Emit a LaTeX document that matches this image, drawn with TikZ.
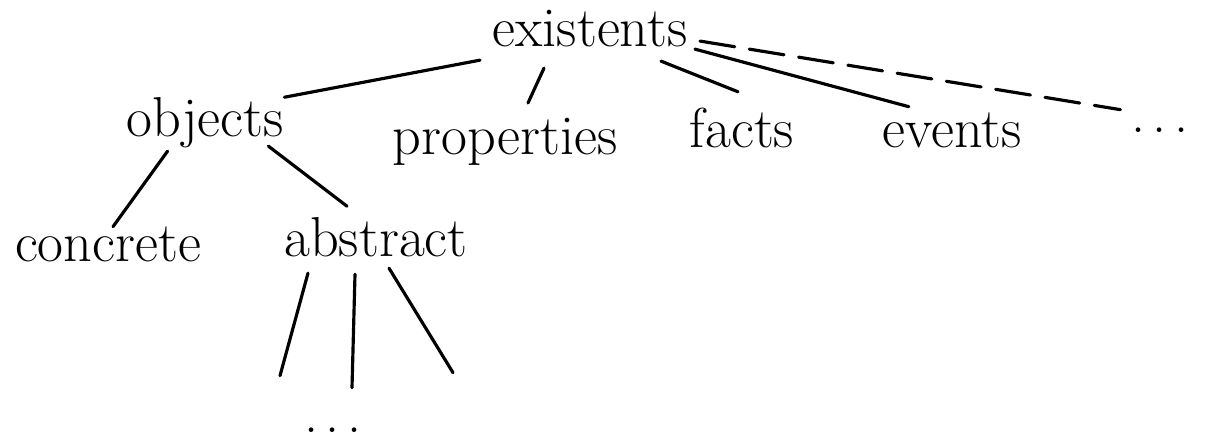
\documentclass[tikz,border=0pt]{standalone}
\usepackage{tikz}
\usetikzlibrary{calc,positioning}

\newcommand{\moredots}{.\hspace{2.2pt}.\hspace{2.2pt}.}

\begin{document}
\begin{tikzpicture}[x=0.01cm,y=-0.01cm,
    word/.style={font=\fontsize{16}{19}\selectfont, inner sep=0pt, anchor=base},
    branch/.style={line width=0.9pt, line cap=round},
    guess/.style={branch, dash pattern=on 10pt off 4.2pt}]
    \useasboundingbox (0,0) rectangle (1209,443);

    % Top word
    \node[word] (existents) at (590,47) {existents};

    % Second row
    \node[word] (objects) at (205,137) {objects};
    \node[word] (properties) at (505,155) {properties};
    \node[word] (facts) at (742,148) {facts};
    \node[word] (events) at (952,148) {events};
    \node[word] (moreR) at (1160,133) {\moredots};

    % Kinds of objects
    \node[word] (concrete) at (108,262) {concrete};
    \node[word] (abstract) at (376,257) {abstract};
    \node[word] (moreB) at (333,433) {\moredots};

    % Branches from existents
    \draw[branch] ($(existents.south west)+(-12,12)$) -- (objects.north east);
    \draw[branch] ($(existents.south)+(-46,20)$) -- ($(properties.north)+(23,-15)$);
    \draw[branch] ($(existents.south east)+(-27,13)$) -- ($(facts.north)+(-4,-16)$);
    \draw[branch] ($(existents.south east)+(7,1)$) -- ($(events.north west)+(27,-6)$);
    \draw[guess] ($(existents.east)+(12,12)$) -- ($(moreR.north west)+(-10,-18)$);

    % Branches from objects
    \draw[branch] ($(objects.south west)+(42,2)$) -- ($(concrete.north)+(5,0)$);
    \draw[branch] ($(objects.south east)+(-16,-3)$) -- ($(abstract.north)+(-29,-11)$);

    % Branches from abstract
    \draw[branch] ($(abstract.south)+(-68,15)$) -- ($(moreB.north)+(-53,-52)$);
    \draw[branch] ($(abstract.south)+(-21,16)$) -- ($(moreB.north)+(19,-40)$);
    \draw[branch] ($(abstract.south)+(13,10)$) -- ($(moreB.north)+(120,-55)$);

\end{tikzpicture}
\end{document}
